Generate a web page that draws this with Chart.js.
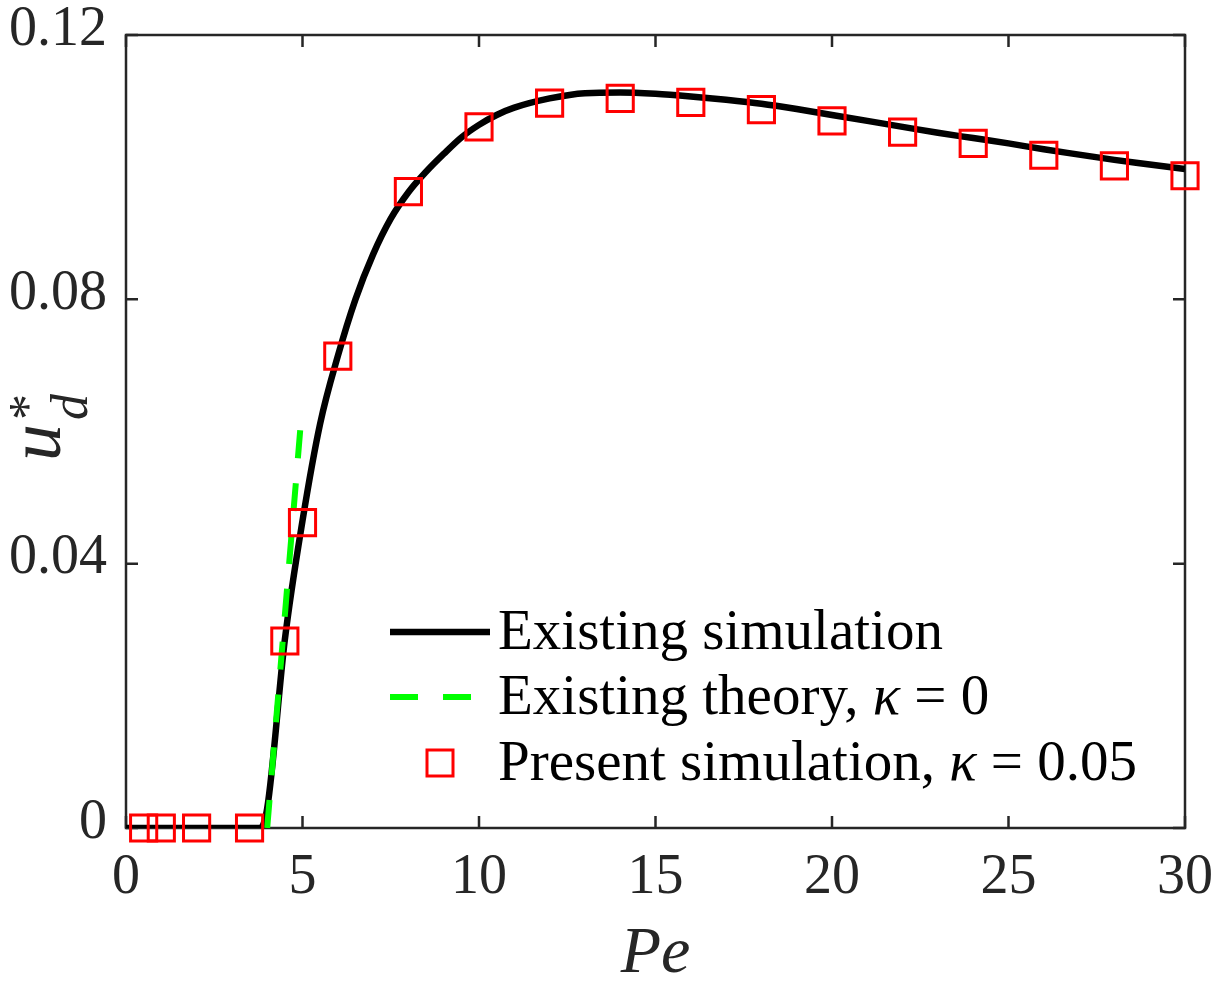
<!DOCTYPE html>
<html>
<head>
<meta charset="utf-8">
<script src="https://cdn.jsdelivr.net/npm/chart.js@4.4.1/dist/chart.umd.min.js"></script>
<style>
  html, body { margin: 0; padding: 0; background: #fff; }
  #chart { width: 1216px; height: 984px; position: relative; }
</style>
</head>
<body>
<div id="chart"><canvas id="myChart"></canvas></div>
<script>
// Existing simulation (solid black curve)
const peSim = [0, 1, 2, 3, 3.8, 4.0, 4.5, 5.0, 5.5, 6.0, 6.5, 7.0, 7.5, 8.0, 8.5, 9, 9.5, 10, 10.5, 11, 12, 13, 14, 15, 16, 17, 18, 19, 20, 21, 22, 23, 24, 25, 26, 27, 28, 29, 30]
const udSim = [0, 0, 0, 0, 0, 0.003, 0.0285, 0.0465, 0.0612, 0.0714, 0.0800, 0.0868, 0.0922, 0.0962, 0.0993, 0.1020, 0.1045, 0.1064, 0.1079, 0.1090, 0.1104, 0.1112, 0.1113, 0.1111, 0.1107, 0.1102, 0.1096, 0.1088, 0.1079, 0.1070, 0.1061, 0.1052, 0.1044, 0.1036, 0.1027, 0.1019, 0.1011, 0.1004, 0.0997]

// Existing theory, kappa = 0 (green dashed)
const peTheory = [4.0, 4.94]
const udTheory = [0, 0.0605]

// Present simulation, kappa = 0.05 (red squares)
const pePresent = [0.5, 1, 2, 3.5, 4.5, 5, 6, 8, 10, 12, 14, 16, 18, 20, 22, 24, 26, 28, 30]
const udPresent = [0, 0, 0, 0, 0.0283, 0.0462, 0.0714, 0.0963, 0.1061, 0.1097, 0.1104, 0.1098, 0.1087, 0.1070, 0.1053, 0.1036, 0.1018, 0.1002, 0.0987]

const xTicks = [0, 5, 10, 15, 20, 25, 30]
const yTicks = [0, 0.04, 0.08, 0.12]

const serif = "'Liberation Serif', 'Times New Roman', serif"
const axisColor = '#262626'

function pts(xs, ys) {
    return xs.map((v, i) => ({ x: v, y: ys[i] }))
}

// box with inward ticks on all four sides
const framePlugin = {
    id: 'frame',
    beforeDatasetsDraw(chart) {
        const { ctx, chartArea: a, scales } = chart
        ctx.save()
        ctx.strokeStyle = axisColor
        ctx.lineWidth = 2.5
        ctx.strokeRect(a.left, a.top, a.right - a.left, a.bottom - a.top)
        ctx.beginPath()
        xTicks.forEach(v => {
            const px = scales.x.getPixelForValue(v)
            ctx.moveTo(px, a.bottom); ctx.lineTo(px, a.bottom - 12)
            ctx.moveTo(px, a.top); ctx.lineTo(px, a.top + 12)
        })
        yTicks.forEach(v => {
            const py = scales.y.getPixelForValue(v)
            ctx.moveTo(a.left, py); ctx.lineTo(a.left + 12, py)
            ctx.moveTo(a.right, py); ctx.lineTo(a.right - 12, py)
        })
        ctx.stroke()
        ctx.restore()
    }
}

// axis titles and legend
const textPlugin = {
    id: 'texts',
    afterDraw(chart) {
        const { ctx, chartArea: a } = chart
        ctx.save()
        ctx.fillStyle = axisColor
        ctx.textBaseline = 'alphabetic'

        // x title
        ctx.font = 'italic 66px ' + serif
        ctx.textAlign = 'center'
        ctx.fillText('Pe', (a.left + a.right) / 2, 972)

        // y title u*_d, rotated
        ctx.save()
        ctx.translate(60, 461)
        ctx.rotate(-Math.PI / 2)
        ctx.textAlign = 'left'
        ctx.font = 'italic 74px ' + serif
        ctx.fillText('u', 0, 0)
        const uw = ctx.measureText('u').width
        ctx.font = 'italic 52px ' + serif
        ctx.fillText('d', uw + 4, 27)
        ctx.font = '52px ' + serif
        ctx.fillText('*', uw + 4, -15)
        ctx.restore()

        // legend
        const ds = chart.data.datasets
        const rows = [
            [['Existing simulation', '']],
            [['Existing theory, ', ''], ['\u03ba', 'italic '], [' = 0', '']],
            [['Present simulation, ', ''], ['\u03ba', 'italic '], [' = 0.05', '']]
        ]
        const rowY = [632, 697, 763]
        const x0 = 390, x1 = 490, tx = 498

        // line samples
        ctx.lineCap = 'butt'
        ctx.strokeStyle = ds[0].borderColor
        ctx.lineWidth = ds[0].borderWidth
        ctx.beginPath(); ctx.moveTo(x0, rowY[0]); ctx.lineTo(x1, rowY[0]); ctx.stroke()
        ctx.strokeStyle = ds[1].borderColor
        ctx.lineWidth = ds[1].borderWidth
        ctx.setLineDash(ds[1].borderDash)
        ctx.beginPath(); ctx.moveTo(x0, rowY[1]); ctx.lineTo(x1, rowY[1]); ctx.stroke()
        ctx.setLineDash([])
        ctx.strokeStyle = ds[2].borderColor
        ctx.lineWidth = ds[2].borderWidth
        const s = 26
        ctx.strokeRect(440 - s / 2, rowY[2] - s / 2, s, s)

        ctx.fillStyle = '#000'
        ctx.textAlign = 'left'
        rows.forEach((parts, i) => {
            let cx = tx
            parts.forEach(([t, style]) => {
                ctx.font = style + '57px ' + serif
                ctx.fillText(t, cx, rowY[i] + 17)
                cx += ctx.measureText(t).width
            })
        })
        ctx.restore()
    }
}

function createChart() {
    const chartie = document.getElementById('myChart')
    new Chart(chartie, {
        type: 'scatter',
        data: {
            datasets: [
                {
                    label: 'Existing simulation',
                    data: pts(peSim, udSim),
                    showLine: true,
                    borderColor: '#000000',
                    borderWidth: 6.5,
                    pointRadius: 0,
                    cubicInterpolationMode: 'monotone',
                    order: 3
                },
                {
                    label: 'Existing theory, \u03ba = 0',
                    data: pts(peTheory, udTheory),
                    showLine: true,
                    borderColor: '#00ff00',
                    borderWidth: 6,
                    borderDash: [28, 25],
                    pointRadius: 0,
                    order: 2
                },
                {
                    label: 'Present simulation, \u03ba = 0.05',
                    data: pts(pePresent, udPresent),
                    showLine: false,
                    pointStyle: 'rect',
                    pointRadius: 18.5,
                    pointHoverRadius: 18.5,
                    borderColor: '#ff0000',
                    backgroundColor: 'rgba(0,0,0,0)',
                    borderWidth: 3,
                    clip: false,
                    order: 1
                }
            ]
        },
        options: {
            animation: false,
            responsive: true,
            maintainAspectRatio: false,
            devicePixelRatio: 1,
            layout: { padding: { left: 0, right: 31, top: 35, bottom: 0 } },
            plugins: {
                legend: { display: false },
                tooltip: { enabled: false }
            },
            scales: {
                x: {
                    type: 'linear',
                    min: 0,
                    max: 30,
                    grid: { display: false, drawTicks: false },
                    border: { display: false },
                    afterFit: (scale) => {
                        scale.height = 156
                        scale.paddingLeft = 0
                        scale.paddingRight = 0
                    },
                    afterBuildTicks: (scale) => { scale.ticks = xTicks.map(v => ({ value: v })) },
                    ticks: {
                        padding: 17,
                        color: axisColor,
                        font: { family: serif, size: 56 },
                        maxRotation: 0,
                        callback: (v) => String(v)
                    }
                },
                y: {
                    type: 'linear',
                    min: 0,
                    max: 0.12,
                    grid: { display: false, drawTicks: false },
                    border: { display: false },
                    afterFit: (scale) => {
                        scale.width = 126
                        scale.paddingTop = 0
                        scale.paddingBottom = 0
                    },
                    afterBuildTicks: (scale) => { scale.ticks = yTicks.map(v => ({ value: v })) },
                    ticks: {
                        padding: 19,
                        labelOffset: -5,
                        color: axisColor,
                        font: { family: serif, size: 56 },
                        callback: (v) => v === 0 ? '0' : v.toFixed(2)
                    }
                }
            }
        },
        plugins: [framePlugin, textPlugin]
    })
    console.log('chart created')
}

createChart()
</script>
</body>
</html>
